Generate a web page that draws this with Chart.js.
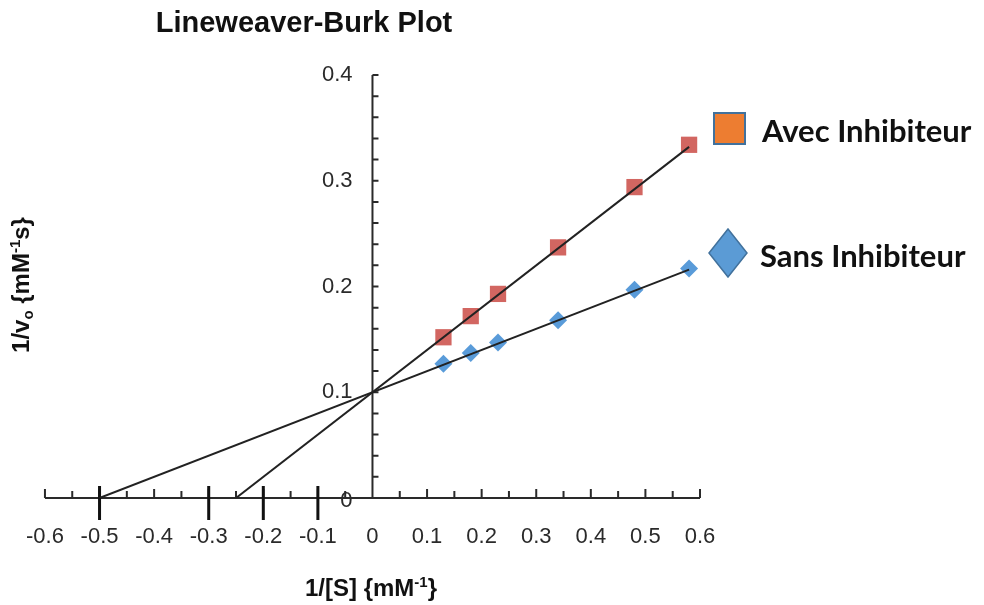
<!DOCTYPE html>
<html>
<head>
<meta charset="utf-8">
<script src="https://cdn.jsdelivr.net/npm/chart.js@4.4.1/dist/chart.umd.min.js"></script>
<style>
  html, body { margin: 0; padding: 0; background: #fff; }
  #wrap { width: 984px; height: 605px; }
</style>
</head>
<body>
<div id="wrap"><canvas id="chart" width="984" height="605"></canvas></div>
<script>
// axis ticks
const xTicks = [-0.6, -0.5, -0.4, -0.3, -0.2, -0.1, 0, 0.1, 0.2, 0.3, 0.4, 0.5, 0.6];
const yTicks = [0, 0.1, 0.2, 0.3, 0.4];

// 1/[S] values and 1/v0 readings
const invS = [0.13, 0.18, 0.23, 0.34, 0.48, 0.58];
const avecInhib = [0.152, 0.172, 0.193, 0.237, 0.294, 0.334];
const sansInhib = [0.127, 0.137, 0.147, 0.168, 0.197, 0.217];

// fitted lines (x intercept -> last point)
const avecFitX = [-0.25, 0.58];
const avecFitY = [0, 0.332];
const sansFitX = [-0.5, 0.58];
const sansFitY = [0, 0.216];

// hand drawn marks on the x axis
const markedX = [-0.5, -0.3, -0.2, -0.1];

const toPoints = (xs, ys) => xs.map((x, i) => ({ x, y: ys[i] }));
const fmt = v => String(+v.toFixed(1));
const tickFont = '22px "Liberation Sans", Arial, sans-serif';

const drawAxes = {
  id: 'drawAxes',
  beforeDatasetsDraw(chart) {
    const { ctx, scales: { x, y } } = chart;
    const x0 = x.getPixelForValue(0);
    const y0 = y.getPixelForValue(0);
    ctx.save();
    ctx.strokeStyle = '#2a2a2a';
    ctx.lineWidth = 2;
    ctx.beginPath();
    ctx.moveTo(x.getPixelForValue(-0.6), y0);
    ctx.lineTo(x.getPixelForValue(0.6), y0);
    for (let i = -12; i <= 12; i++) {
      const px = x.getPixelForValue(i * 0.05);
      ctx.moveTo(px, y0);
      ctx.lineTo(px, y0 - (i % 2 === 0 ? 9 : 7));
    }
    ctx.moveTo(x0, y0);
    ctx.lineTo(x0, y.getPixelForValue(0.4));
    for (let i = 1; i <= 20; i++) {
      const py = y.getPixelForValue(i * 0.02);
      ctx.moveTo(x0, py);
      ctx.lineTo(x0 + 6, py);
    }
    ctx.stroke();

    ctx.strokeStyle = '#111';
    ctx.lineWidth = 3;
    ctx.beginPath();
    markedX.forEach(v => {
      const px = x.getPixelForValue(v);
      ctx.moveTo(px, y0 - 12);
      ctx.lineTo(px, y0 + 22);
    });
    ctx.stroke();

    // y tick labels, left of the centred axis
    ctx.fillStyle = '#2a2a2a';
    ctx.font = tickFont;
    ctx.textAlign = 'right';
    ctx.textBaseline = 'middle';
    yTicks.forEach(v => {
      const py = y.getPixelForValue(v) + (v === 0 ? 3 : 0);
      ctx.fillText(fmt(v), x0 - 20, py);
    });
    ctx.restore();
  },
  afterDraw(chart) {
    const { ctx } = chart;
    ctx.save();
    ctx.fillStyle = '#111';

    // title
    ctx.font = 'bold 29px "Liberation Sans", Arial, sans-serif';
    ctx.textAlign = 'center';
    ctx.textBaseline = 'alphabetic';
    ctx.fillText('Lineweaver-Burk Plot', 304, 32);

    const big = 'bold 24px "Liberation Sans", Arial, sans-serif';
    const small = 'bold 15px "Liberation Sans", Arial, sans-serif';
    const parts = (list, cx, base) => {
      let w = 0;
      list.forEach(p => { ctx.font = p[1]; w += ctx.measureText(p[0]).width; });
      let px = cx - w / 2;
      ctx.textAlign = 'left';
      list.forEach(p => {
        ctx.font = p[1];
        ctx.fillText(p[0], px, base + p[2]);
        px += ctx.measureText(p[0]).width;
      });
    };
    // x title
    parts([['1/[S] {mM', big, 0], ['-1', small, -9], ['}', big, 0]], 371, 596);

    // y title
    ctx.save();
    ctx.translate(29, 285);
    ctx.rotate(-Math.PI / 2);
    parts([['1/v', big, 0], ['o', small, 4], [' {mM', big, 0], ['-1', small, -9], ['s}', big, 0]], 0, 0);
    ctx.restore();

    // legend
    ctx.fillStyle = '#ed7d31';
    ctx.strokeStyle = '#41719c';
    ctx.lineWidth = 2;
    ctx.fillRect(714, 113, 31, 31);
    ctx.strokeRect(714, 113, 31, 31);

    ctx.fillStyle = '#5b9bd5';
    ctx.strokeStyle = '#41719c';
    ctx.lineWidth = 1.5;
    ctx.beginPath();
    ctx.moveTo(728, 229);
    ctx.lineTo(747, 253);
    ctx.lineTo(728, 277);
    ctx.lineTo(709, 253);
    ctx.closePath();
    ctx.fill();
    ctx.stroke();

    ctx.fillStyle = '#111';
    ctx.font = 'bold 31px Lato, "Open Sans", sans-serif';
    ctx.textAlign = 'left';
    ctx.fillText('Avec Inhibiteur', 762, 142);
    ctx.fillText('Sans Inhibiteur', 760, 267);
    ctx.restore();
  }
};

new Chart(document.getElementById('chart'), {
  type: 'scatter',
  data: {
    datasets: [
      {
        label: 'Avec fit',
        data: toPoints(avecFitX, avecFitY),
        showLine: true,
        borderColor: '#222',
        borderWidth: 2,
        pointRadius: 0
      },
      {
        label: 'Sans fit',
        data: toPoints(sansFitX, sansFitY),
        showLine: true,
        borderColor: '#222',
        borderWidth: 2,
        pointRadius: 0
      },
      {
        label: 'Avec Inhibiteur',
        data: toPoints(invS, avecInhib),
        pointStyle: 'rect',
        pointRadius: 11.5,
        backgroundColor: 'rgba(205, 85, 80, 0.9)',
        borderColor: 'rgba(205, 85, 80, 0.9)',
        borderWidth: 0
      },
      {
        label: 'Sans Inhibiteur',
        data: toPoints(invS, sansInhib),
        pointStyle: 'rectRot',
        pointRadius: 9,
        backgroundColor: 'rgba(80, 150, 215, 0.95)',
        borderColor: 'rgba(80, 150, 215, 0.95)',
        borderWidth: 0
      }
    ]
  },
  options: {
    responsive: false,
    animation: false,
    devicePixelRatio: 1,
    layout: { padding: { left: 40, right: 284, top: 75, bottom: 107 } },
    plugins: {
      legend: { display: false },
      tooltip: { enabled: false }
    },
    scales: {
      x: {
        type: 'linear',
        min: -0.6,
        max: 0.6,
        position: { y: 0 },
        grid: { display: false, drawTicks: false },
        border: { display: false },
        afterBuildTicks: s => { s.ticks = xTicks.map(v => ({ value: v })); },
        afterFit: s => { s.height = 0; },
        ticks: {
          autoSkip: false,
          maxRotation: 0,
          padding: 26,
          color: '#2a2a2a',
          font: { family: '"Liberation Sans", Arial, sans-serif', size: 22 },
          callback: fmt
        }
      },
      y: {
        type: 'linear',
        min: 0,
        max: 0.4,
        position: { x: 0 },
        grid: { display: false, drawTicks: false },
        border: { display: false },
        afterBuildTicks: s => { s.ticks = yTicks.map(v => ({ value: v })); },
        afterFit: s => { s.width = 0; },
        ticks: { display: false }
      }
    }
  },
  plugins: [drawAxes]
});
</script>
</body>
</html>
